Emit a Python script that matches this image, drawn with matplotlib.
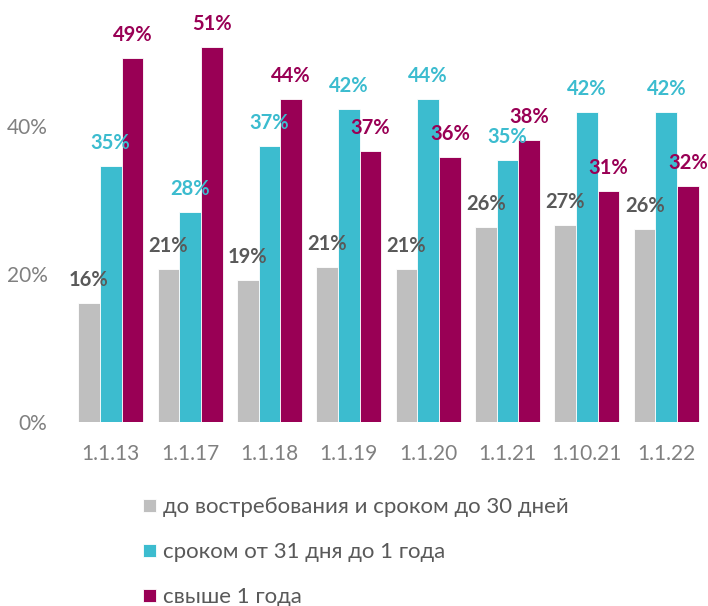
import numpy as np
import matplotlib
matplotlib.use("Agg")
import matplotlib.pyplot as plt

plt.rcParams['font.family'] = ['Lato', 'DejaVu Sans']

categories = ["1.1.13", "1.1.17", "1.1.18", "1.1.19", "1.1.20", "1.1.21", "1.10.21", "1.1.22"]
series_names = ["до востребования и сроком до 30 дней",
                "сроком от 31 дня до 1 года",
                "свыше 1 года"]
short_term = [16.1, 20.7, 19.1, 20.9, 20.6, 26.3, 26.6, 26.0]
mid_term = [34.6, 28.3, 37.2, 42.3, 43.6, 35.4, 41.9, 41.8]
long_term = [49.2, 50.7, 43.6, 36.6, 35.8, 38.1, 31.2, 31.9]
yticks = [0, 20, 40]

bar_colors = ["#BFBFBF", "#3CBCCF", "#990055"]
label_colors = ["#595959", "#3CBCCF", "#990055"]

fig = plt.figure(figsize=(7.08, 6.06), dpi=100)
ax = fig.add_axes([71 / 708, (606 - 421.7) / 606, 635 / 708, 407 / 606])

x = np.arange(len(categories))
width = 0.273
offsets = [-width, 0, width]
bars = []
for vals, off, col, lcol, name in zip([short_term, mid_term, long_term], offsets,
                                      bar_colors, label_colors, series_names):
    b = ax.bar(x + off, vals, width, color=col, edgecolor="white", linewidth=0.6, label=name)
    bars.append(b)
    for xi, v in zip(x + off, vals):
        ax.annotate(f"{v:.0f}%", (xi, v), xytext=(0, 12.2), textcoords="offset points",
                    ha="center", va="baseline", fontsize=14.5, fontweight="bold", color=lcol)

ax.set_xlim(-0.5, len(categories) - 0.5)
ax.set_ylim(0, 55)
ax.set_yticks(yticks)
ax.set_yticklabels([f"{t}%" for t in yticks])
ax.set_xticks(x)
ax.set_xticklabels(categories)
ax.tick_params(axis="y", length=0, pad=17, labelsize=15, labelcolor="#808080")
ax.tick_params(axis="x", length=0, pad=16, labelsize=15, labelcolor="#808080")
for s in ax.spines.values():
    s.set_visible(False)

fig.legend(handles=bars, labels=series_names, loc="upper left",
           bbox_to_anchor=(143.3 / 708, 1 - 497 / 606), frameon=False,
           fontsize=16, labelcolor="#595959", handlelength=0.585, handleheight=0.54,
           handletextpad=0.28, labelspacing=1.13, borderpad=0, borderaxespad=0)

fig.savefig("out.png", dpi=100)
